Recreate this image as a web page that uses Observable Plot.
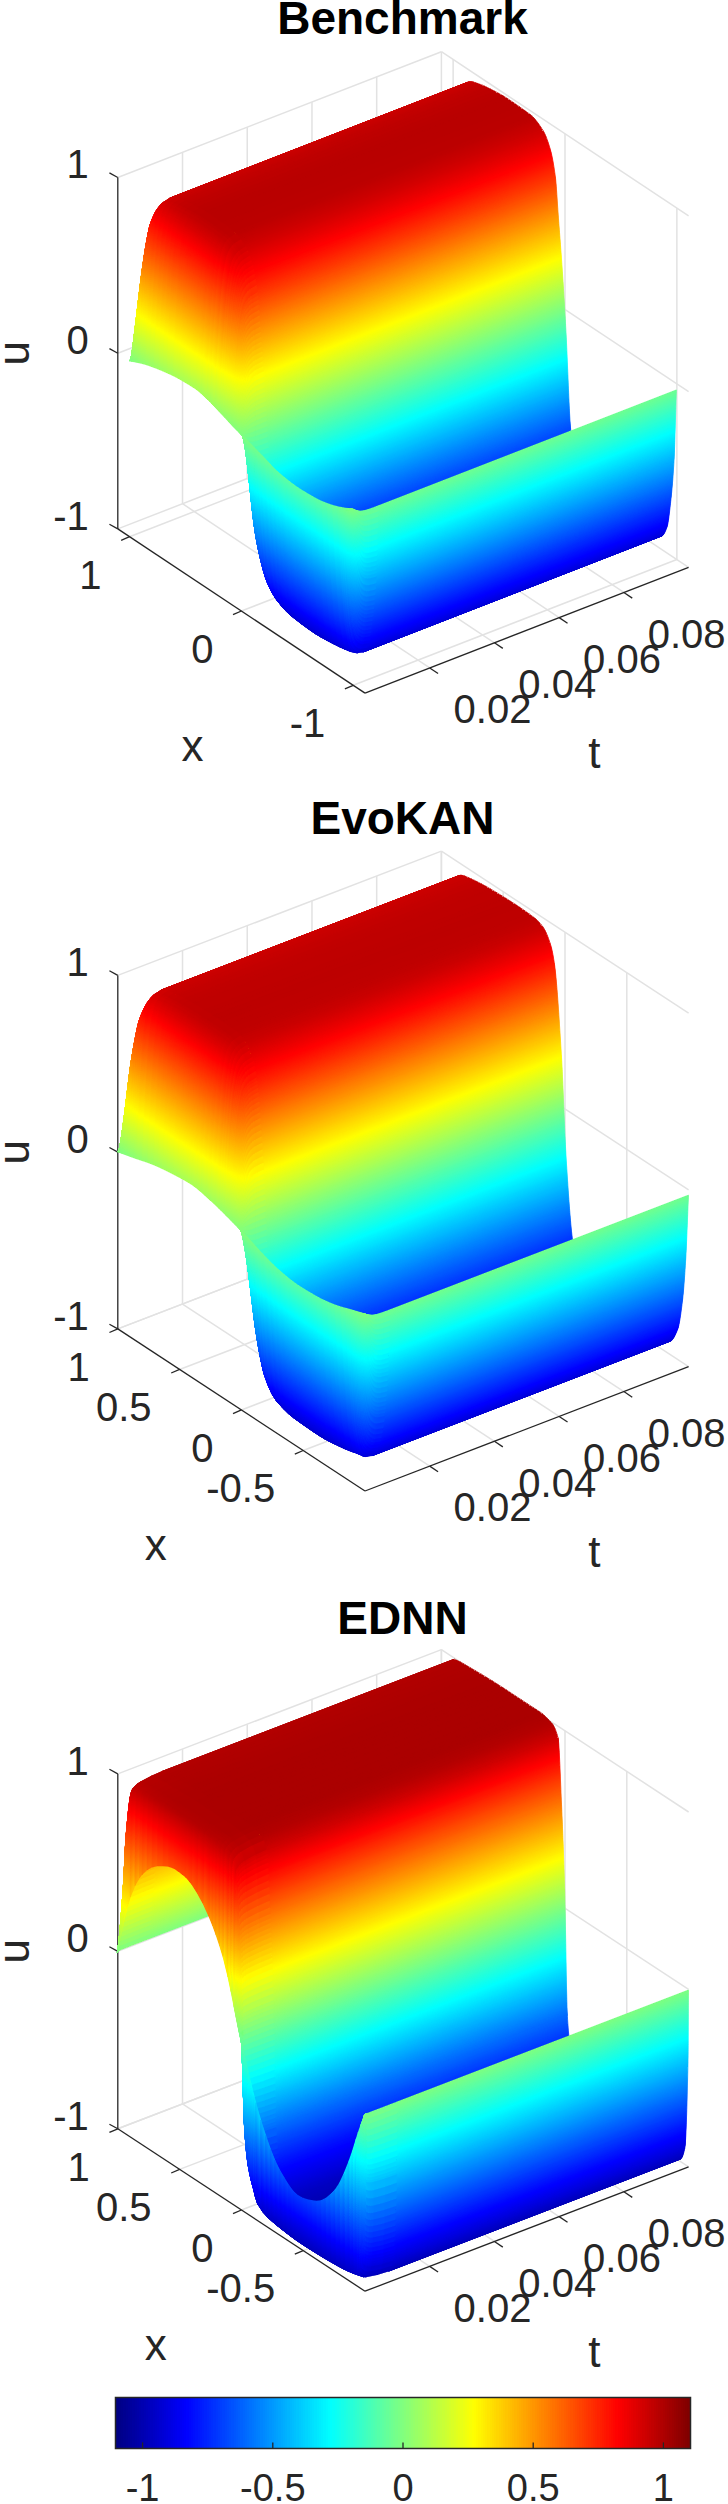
<!DOCTYPE html>
<html><head><meta charset="utf-8">
<script src="https://cdn.jsdelivr.net/npm/d3@7"></script>
<script src="https://cdn.jsdelivr.net/npm/@observablehq/plot@0.6"></script>
<style>html,body{margin:0;padding:0;background:#fff}svg{display:block}</style>
</head><body><div id="chart"></div>
<script>
const titles = ["Benchmark","EvoKAN","EDNN"];
const tTicks = [0.02,0.04,0.06,0.08];
const uTicks = [-1,0,1];
const cbTicks = [-1,-0.5,0,0.5,1];
const tMax = 0.1, cLim = 1.104;

// settled profile u(x) and the t = 0 profile (x as a fraction of the half axis)
const benchX = [0.902,0.883,0.857,0.827,0.782,0.74,0.60,0.465,0.279,0.174,0.117,0.077,0.053,0.02,-0.009,-0.047,-0.08,-0.12,-0.17,-0.28,-0.465,-0.60,-0.74,-0.782,-0.827,-0.857,-0.883,-0.902];
const benchS = [0,0.45,0.69,0.854,0.925,0.945,0.97,0.98,0.975,0.93,0.85,0.715,0.5,0.2,-0.13,-0.665,-0.80,-0.88,-0.925,-0.96,-0.97,-0.96,-0.94,-0.927,-0.854,-0.69,-0.45,-0.04];
const bench0X = [0.902,0.77,0.631,0.50,0.367,0.25,0.141,0.05,-0.047,-0.18,-0.311,-0.46,-0.612,-0.74,-0.838,-0.902];
const bench0U = [0,0.04,0.068,0.085,0.09,0.07,0.04,0.015,-0.007,-0.04,-0.073,-0.085,-0.078,-0.055,-0.025,0];

const evoX = [1,0.977,0.951,0.913,0.846,0.80,0.60,0.40,0.25,0.179,0.12,0.085,0.028,-0.01,-0.059,-0.10,-0.17,-0.30,-0.50,-0.70,-0.808,-0.846,-0.913,-0.951,-0.977,-1];
const evoS = [0,0.41,0.655,0.83,0.93,0.944,0.965,0.97,0.965,0.945,0.88,0.78,0.285,-0.276,-0.702,-0.86,-0.94,-0.97,-0.975,-0.955,-0.934,-0.929,-0.831,-0.655,-0.412,-0.033];
const evo0X = [1,0.85,0.71,0.55,0.40,0.25,0.11,-0.047,-0.18,-0.31,-0.46,-0.61,-0.76,-0.88,-1];
const evo0U = [0,0.03,0.06,0.08,0.09,0.07,0.04,0,-0.04,-0.07,-0.085,-0.08,-0.06,-0.03,0];

const ednnX = [1,0.978,0.956,0.94,0.895,0.80,0.50,0.20,0.104,0.055,0.028,0.002,-0.02,-0.05,-0.09,-0.12,-0.20,-0.50,-0.80,-0.932,-0.97,-0.996,-1];
const ednnS = [0,0.22,0.476,0.726,0.99,1.0,1.01,1.01,0.99,0.93,0.58,0.105,-0.6,-0.8,-0.9,-0.96,-0.99,-1.0,-1.0,-0.99,-0.913,-0.415,-0.007];
const ednn0X = [1,0.95,0.90,0.82,0.72,0.631,0.54,0.443,0.35,0.254,0.141,-0.009,-0.16,-0.311,-0.461,-0.612,-0.763,-0.876,-0.95,-1];
const ednn0U = [-0.01,0.18,0.34,0.495,0.60,0.648,0.675,0.668,0.62,0.528,0.351,-0.069,-0.423,-0.632,-0.71,-0.673,-0.539,-0.324,-0.13,-0.01];

// how fast the surface leaves the t = 0 profile
const relaxT = [0,0.0003,0.0006,0.0009,0.0012,0.0018,0.0024,0.003,0.0036,0.0048,0.006,0.008,0.1];
const relaxG = [0,0.12,0.25,0.36,0.46,0.64,0.78,0.86,0.92,0.97,0.99,1,1];
const ednnRelaxT = [0,0.00005,0.0001,0.0002,0.0003,0.0005,0.001,0.003,0.01,0.1];
const ednnRelaxG = [0,0.2,0.38,0.62,0.8,0.92,0.95,0.98,1,1];

const panels = [
 {title:titles[0],height:800,O:[117.3,528.4],ex:[247.2,164.2],et:[323.6,-125.8],eu:[0,-351.4],xLim:1.105,xScale:1.105,X:benchX,S:benchS,X0:bench0X,U0:bench0U,rT:relaxT,rG:relaxG,xTicks:[1,0,-1],xLabelDx:-49},
 {title:titles[1],height:800,O:[117.3,528.4],ex:[247.2,162.1],et:[323.6,-124.3],eu:[0,-353.5],xLim:1,xScale:1,X:evoX,S:evoS,X0:evo0X,U0:evo0U,rT:relaxT,rG:relaxG,xTicks:[1,0.5,0,-0.5],xLabelDx:-85.7},
 {title:titles[2],height:780,O:[117.3,528.3],ex:[247.2,162.4],et:[323.6,-124.3],eu:[0,-354.9],xLim:1,xScale:1,X:ednnX,S:ednnS,X0:ednn0X,U0:ednn0U,rT:ednnRelaxT,rG:ednnRelaxG,xTicks:[1,0.5,0,-0.5],xLabelDx:-85.7}
];

function jet(t){
  const c=v=>Math.round(255*Math.max(0,Math.min(1,1.5-Math.abs(4*t-v))));
  return `rgb(${c(3)},${c(2)},${c(1)})`;
}
const colorOpt = {type:"linear",domain:[-cLim,cLim],interpolate:jet,clamp:true};

// monotone cubic through the read points, used only to shade between them (surf's interpolated shading)
function mono(xs,ys){
  const n=xs.length, d=[], m=new Array(n);
  for(let i=0;i<n-1;i++) d.push((ys[i+1]-ys[i])/(xs[i+1]-xs[i]));
  m[0]=d[0]; m[n-1]=d[n-2];
  for(let i=1;i<n-1;i++){
    m[i]=d[i-1]*d[i]<=0?0:2*d[i-1]*d[i]/(d[i-1]+d[i]);
  }
  const asc=xs[0]<xs[n-1];
  return x=>{
    let i=0; while(i<n-2 && (asc? xs[i+1]<x : xs[i+1]>x)) i++;
    const h=xs[i+1]-xs[i], f=(x-xs[i])/h, f2=f*f, f3=f2*f;
    return (2*f3-3*f2+1)*ys[i]+(f3-2*f2+f)*h*m[i]+(-2*f3+3*f2)*ys[i+1]+(f3-f2)*h*m[i+1];
  };
}
const dark="#262626", gridC="#e2e2e2", fs=40;

function panelPlot(p){
  const proj=(x,t,u)=>{
    const fx=(p.xLim-x)/(2*p.xLim), ft=t/tMax, fu=(u+1)/2;
    return [p.O[0]+fx*p.ex[0]+ft*p.et[0]+fu*p.eu[0], p.O[1]+fx*p.ex[1]+ft*p.et[1]+fu*p.eu[1]];
  };
  const seg=(a,b)=>{const A=proj(...a),B=proj(...b);return {x1:A[0],y1:A[1],x2:B[0],y2:B[1]};};
  const L=p.xLim;
  const grid=[];
  for(const t of tTicks){ grid.push(seg([L,t,-1],[L,t,1])); grid.push(seg([L,t,-1],[-L,t,-1])); }
  for(const x of p.xTicks){ grid.push(seg([x,tMax,-1],[x,tMax,1])); grid.push(seg([x,0,-1],[x,tMax,-1])); }
  for(const u of uTicks){ grid.push(seg([L,0,u],[L,tMax,u])); grid.push(seg([L,tMax,u],[-L,tMax,u])); }
  grid.push(seg([L,tMax,-1],[L,tMax,1]));
  const axes=[seg([L,0,-1],[L,0,1]),seg([L,0,-1],[-L,0,-1]),seg([-L,0,-1],[-L,tMax,-1])];
  const tickX=[-18/2.148,7/1.955], tickU=[-18/2.148,-9/1.955], tickT=[18/2.148,11/1.955];
  const ticks=[];
  const tickSeg=(P,d)=>({x1:P[0],y1:P[1],x2:P[0]+d[0],y2:P[1]+d[1]});
  uTicks.forEach(u=>ticks.push(tickSeg(proj(L,0,u),tickU)));
  p.xTicks.forEach(x=>ticks.push(tickSeg(proj(x,0,-1),tickX)));
  tTicks.forEach(t=>ticks.push(tickSeg(proj(-L,t,-1),tickT)));

  const sF=mono(p.X,p.S), zF=mono(p.X0,p.U0), gF=mono(p.rT,p.rG);
  const uAt=(x,t)=>{ const s=sF(x), z=zF(x), g=gF(t); return z+(s-z)*g; };
  const xGrid=(dU,dX)=>{
    const xLo=p.X[p.X.length-1], xHi=p.X[0];
    const a=[...new Set([...p.X,...p.X0])].filter(v=>v>=xLo&&v<=xHi).sort((m,n)=>n-m);
    const out=[];
    for(let i=0;i<a.length-1;i++){
      const du=Math.abs(sF(a[i])-sF(a[i+1]));
      const n=Math.max(1,Math.ceil(Math.max(du/dU,(a[i]-a[i+1])/dX)));
      for(let k=0;k<n;k++) out.push(a[i]+(a[i+1]-a[i])*k/n);
    }
    out.push(a[a.length-1]);
    return out;
  };
  const rT=p.rT, rG=p.rG, tEdge=rT[rT.length-2];
  const tNear=[];
  for(let i=0;i<rT.length-2;i++){
    const n=Math.max(1,Math.ceil((rG[i+1]-rG[i])/0.012));
    for(let k=0;k<n;k++) tNear.push(rT[i]+(rT[i+1]-rT[i])*k/n);
  }
  tNear.push(tEdge);
  const rows=[]; let q=0;
  const addStrip=(xs,t0,t1)=>{
    for(let i=0;i<xs.length-1;i++){
      const a=xs[i], b=xs[i+1];
      const ua0=uAt(a,t0),ub0=uAt(b,t0),ua1=uAt(a,t1),ub1=uAt(b,t1);
      const u=(ua0+ub0+ua1+ub1)/4;
      const P=proj(a*p.xScale,t0,ua0),Q=proj(b*p.xScale,t0,ub0);
      const R=proj(a*p.xScale,t1,ua1),T=proj(b*p.xScale,t1,ub1);
      rows.push({q,u,X1:P[0],Y1:P[1],X2:Q[0],Y2:Q[1]});
      rows.push({q,u,X1:R[0],Y1:R[1],X2:T[0],Y2:T[1]});
      q++;
    }
  };
  // painter's order: far corner (large t, large x) first
  addStrip(xGrid(0.004,0.05),tMax,tEdge);
  const xsNear=xGrid(0.03,0.05);
  for(let j=tNear.length-2;j>=0;j--) addStrip(xsNear,tNear[j+1],tNear[j]);

  const link=(data,stroke,w)=>Plot.link(data,{x1:"x1",y1:"y1",x2:"x2",y2:"y2",stroke,strokeWidth:w});
  const label=(data,opt)=>Plot.text(data,{fill:dark,fontFamily:"Liberation Sans",fontSize:fs,lineAnchor:"middle",...opt});
  const uPos=uTicks.map(u=>{const P=proj(L,0,u);return {x:P[0],y:P[1],s:String(u)};});
  const xPos=p.xTicks.map(x=>{const P=proj(x,0,-1);return {x:P[0],y:P[1],s:String(x)};});
  const tPos=tTicks.map(t=>{const P=proj(-L,t,-1);return {x:P[0],y:P[1],s:String(t)};});
  const mx=proj(0,0,-1), mt=proj(-L,0.05,-1), mu=proj(L,0,0);
  return Plot.plot({
    width:728,height:p.height,margin:0,
    x:{domain:[0,728],range:[0,728],axis:null},
    y:{domain:[0,p.height],range:[0,p.height],axis:null},
    color:colorOpt,
    style:{background:"#fff"},
    marks:[
      link(grid,gridC,1.5),
      link(axes,dark,1.3),
      link(ticks,dark,1.3),
      Plot.area(rows,{x1:"X1",y1:"Y1",x2:"X2",y2:"Y2",z:"q",fill:"u",stroke:"u",strokeWidth:0.8,shapeRendering:"crispEdges"}),
      label(uPos,{x:"x",y:"y",text:"s",textAnchor:"end",dx:-29,dy:-12}),
      label(xPos,{x:"x",y:"y",text:"s",textAnchor:"end",dx:-28,dy:39}),
      label(tPos,{x:"x",y:"y",text:"s",dx:62.8,dy:42.5}),
      label([{x:mx[0],y:mx[1],s:"x"}],{x:"x",y:"y",text:"s",fontSize:44,dx:p.xLabelDx,dy:136}),
      label([{x:mt[0],y:mt[1],s:"t"}],{x:"x",y:"y",text:"s",fontSize:44,dx:67.5,dy:124}),
      label([{x:mu[0],y:mu[1],s:"u"}],{x:"x",y:"y",text:"s",fontSize:44,rotate:-90,dx:-103,dy:0}),
      Plot.text([p.title],{frameAnchor:"top",lineAnchor:"middle",dx:38,dy:19,fill:"#000",fontWeight:"bold",fontFamily:"Liberation Sans",fontSize:46})
    ]
  });
}

function colorbar(){
  const levels=d3.range(256).map(i=>({a:-cLim+2*cLim*i/256,b:-cLim+2*cLim*(i+1)/256}));
  return Plot.plot({
    width:728,height:124,marginLeft:115,marginRight:38,marginTop:17,marginBottom:56,
    x:{domain:[-cLim,cLim],axis:null},
    y:{domain:[0,1],axis:null},
    color:colorOpt,
    style:{background:"#fff"},
    marks:[
      Plot.rect(levels,{x1:"a",x2:"b",y1:()=>0,y2:()=>1,fill:d=>d.a+cLim/256,shapeRendering:"crispEdges",inset:-0.5}),
      Plot.link(cbTicks,{x1:d=>d,x2:d=>d,y1:()=>0,y2:()=>0.12,stroke:dark,strokeWidth:1.3}),
      Plot.frame({stroke:dark,strokeWidth:1.5}),
      Plot.text(cbTicks,{x:d=>d,text:d=>String(d),frameAnchor:"bottom",lineAnchor:"middle",dy:40,fill:dark,fontFamily:"Liberation Sans",fontSize:38})
    ]
  });
}
const root=document.getElementById("chart");
panels.forEach(p=>root.appendChild(panelPlot(p)));
root.appendChild(colorbar());
</script></body></html>
